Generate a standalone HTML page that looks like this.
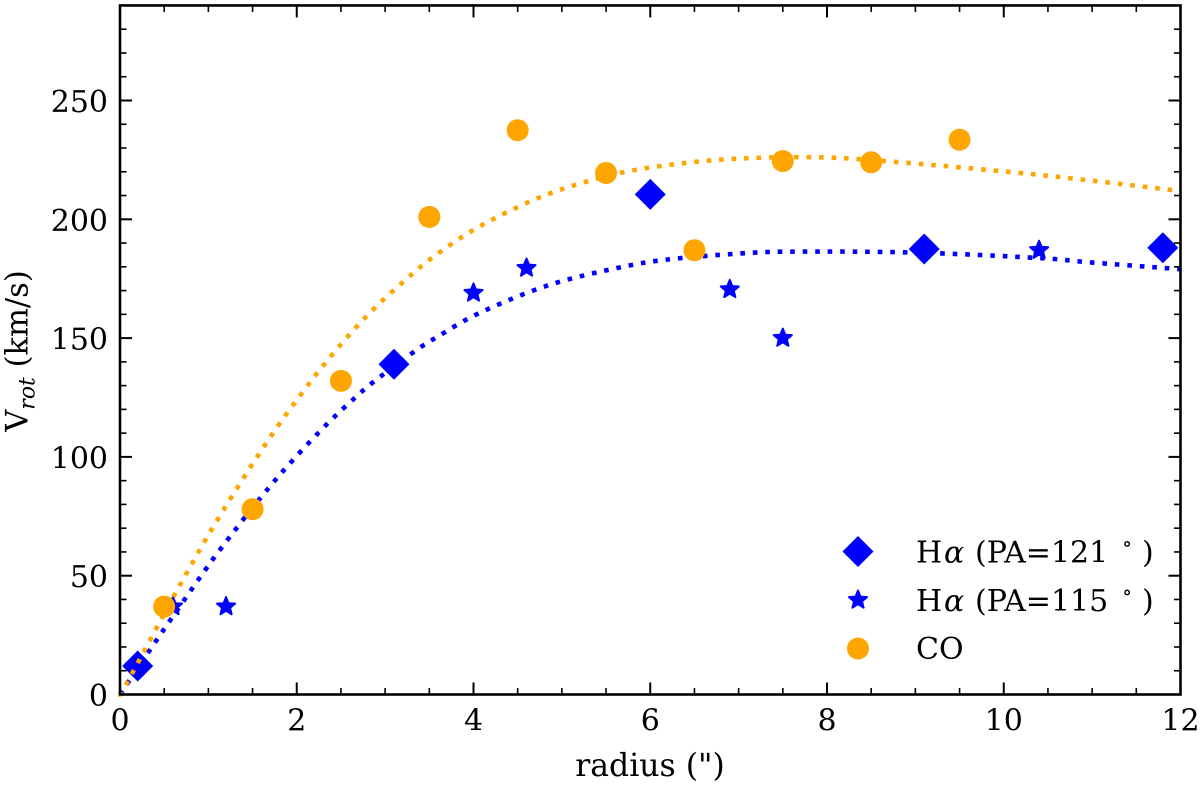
<!DOCTYPE html>
<html lang="en">
<head>
<meta charset="utf-8">
<title>Rotation curve</title>
<style>
html,body{margin:0;padding:0;background:#fff;width:1200px;height:789px;overflow:hidden}
svg{display:block}
text{font-family:"DejaVu Serif","Liberation Serif",serif;fill:#000}
</style>
</head>
<body>
<svg id="chart" width="1200" height="789" viewBox="0 0 1200 789" xmlns="http://www.w3.org/2000/svg">
  <g id="marks-low"></g>
  <g id="marks-line"></g>
  <g id="marks-co"></g>
  <g id="axes"></g>
  <text x="650" y="776" font-size="31.5" text-anchor="middle">radius (")</text>
  <text transform="translate(27.5 351) rotate(-90)" font-size="30.5" text-anchor="middle">V<tspan font-size="22" font-style="italic" dy="7">rot</tspan><tspan dy="-7"> (km/s)</tspan></text>
  <g id="legend">
    <text y="562.5" font-size="30"><tspan x="916">H</tspan><tspan x="944" font-style="italic">α</tspan><tspan x="975">(PA=121</tspan><tspan x="1122" font-size="21" dy="-12">∘</tspan><tspan x="1142" dy="12">)</tspan></text>
    <text y="611" font-size="30"><tspan x="916">H</tspan><tspan x="944" font-style="italic">α</tspan><tspan x="975">(PA=115</tspan><tspan x="1122" font-size="21" dy="-12">∘</tspan><tspan x="1142" dy="12">)</tspan></text>
    <text x="916" y="659" font-size="30">CO</text>
  </g>
</svg>
<script>
const xTickLabels = [0, 2, 4, 6, 8, 10, 12];
const yTickLabels = [0, 50, 100, 150, 200, 250];

const diamondX = [0.2, 3.1, 6.0, 9.1, 11.8];
const diamondY = [12, 139, 210.5, 187.5, 188];

const starX = [0.6, 1.2, 3.1, 4.0, 4.6, 6.9, 7.5, 10.4];
const starY = [37, 37, 139, 169, 179.5, 170.5, 150, 187];

const coX = [0.5, 1.5, 2.5, 3.5, 4.5, 5.5, 6.5, 7.5, 8.5, 9.5];
const coY = [37, 78, 132, 201, 237.5, 219.5, 187, 224.5, 224, 233.5];

const fitBlueX = [0, 0.09, 0.49, 0.9, 1.145, 1.59, 1.96, 2.35, 2.66, 2.88, 3.34, 3.58, 4.07, 4.86, 5.69, 6.25, 7.1, 7.67, 9, 10.4, 11, 12];
const fitBlueY = [0, 5, 27, 49, 61.6, 82.8, 98.8, 114.1, 124.9, 131.9, 144.6, 150.3, 160.6, 172.4, 180, 183.3, 185.8, 186.4, 186, 183.7, 181.8, 179];

const fitOrangeX = [0, 0.08, 0.7, 1.124, 1.66, 2.075, 2.43, 2.81, 3.23, 3.56, 4.04, 4.67, 5.2, 5.76, 6.47, 7.16, 8, 8.89, 10.16, 11.01, 11.86, 12];
const fitOrangeY = [0, 5, 47.5, 74.8, 106.1, 127.7, 144.3, 160, 174.5, 184.6, 196.4, 208, 215, 220.3, 224, 225.8, 226, 223.8, 219.6, 216.2, 212.5, 211.8];

const X0 = 120, X1 = 1180.5, Y0 = 694.5, PXY = 2.376, XMAX = 12, YMAX = 290;
const sx = v => X0 + (X1 - X0) * v / XMAX;
const sy = v => Y0 - PXY * v;
const NS = 'http://www.w3.org/2000/svg';
const mk = (parent, tag, attrs) => {
  const e = document.createElementNS(NS, tag);
  for (const k in attrs) e.setAttribute(k, attrs[k]);
  parent.appendChild(e);
  return e;
};
const diamondPts = (cx, cy) => {
  const r = 15.5;
  return [cx - r, cy, cx, cy - r, cx + r, cy, cx, cy + r].join(',');
};
const starPts = (cx, cy) => {
  const p = [];
  for (let i = 0; i < 10; i++) {
    const r = i % 2 ? 4.2 : 9.5;
    const a = -Math.PI / 2 + i * Math.PI / 5;
    p.push(cx + r * Math.cos(a), cy + r * Math.sin(a));
  }
  return p.join(',');
};
const spline = (xs, ys) => {
  const P = xs.map((x, i) => [sx(x), sy(ys[i])]);
  let d = 'M' + P[0][0] + ' ' + P[0][1];
  for (let i = 0; i < P.length - 1; i++) {
    const a = P[Math.max(i - 1, 0)], b = P[i], c = P[i + 1], e = P[Math.min(i + 2, P.length - 1)];
    d += ' C' + (b[0] + (c[0] - a[0]) / 6) + ' ' + (b[1] + (c[1] - a[1]) / 6) + ' ' +
      (c[0] - (e[0] - b[0]) / 6) + ' ' + (c[1] - (e[1] - b[1]) / 6) + ' ' + c[0] + ' ' + c[1];
  }
  return d;
};

const low = document.getElementById('marks-low');
const lines = document.getElementById('marks-line');
const co = document.getElementById('marks-co');
const axes = document.getElementById('axes');
const legend = document.getElementById('legend');

diamondX.forEach((x, i) => {
  const el = mk(low, 'polygon', { points: diamondPts(sx(x), sy(diamondY[i])), fill: '#0000ff' });
  
  
});
starX.forEach((x, i) => {
  const el = mk(low, 'polygon', { points: starPts(sx(x), sy(starY[i])), fill: '#0000ff', stroke: '#0000ff', 'stroke-width': 2, 'stroke-linejoin': 'round' });
  
  
});
const lineBlue = mk(lines, 'path', { d: spline(fitBlueX, fitBlueY), fill: 'none', stroke: '#0000ff', 'stroke-width': 4.6, 'stroke-dasharray': '4.6 7.9' });


const lineOrange = mk(lines, 'path', { d: spline(fitOrangeX, fitOrangeY), fill: 'none', stroke: '#ffa500', 'stroke-width': 4.6, 'stroke-dasharray': '4.6 7.9' });


coX.forEach((x, i) => {
  const el = mk(co, 'circle', { cx: sx(x), cy: sy(coY[i]), r: 11, fill: '#ffa500' });
  
  
});

// ticks
for (let v = 0; v <= XMAX + 1e-6; v += 0.5) {
  const major = Math.abs(v % 2) < 1e-6;
  const len = major ? 12 : 6.5;
  const t1 = mk(axes, 'line', { x1: sx(v), x2: sx(v), y1: Y0, y2: Y0 - len, stroke: '#000', 'stroke-width': major ? 2 : 1.6 });
  
  
  const t2 = mk(axes, 'line', { x1: sx(v), x2: sx(v), y1: sy(YMAX), y2: sy(YMAX) + len, stroke: '#000', 'stroke-width': major ? 2 : 1.6 });
  
  
}
for (let v = 0; v <= YMAX; v += 10) {
  const major = v % 50 === 0;
  const len = major ? 12 : 6.5;
  const t1 = mk(axes, 'line', { x1: X0, x2: X0 + len, y1: sy(v), y2: sy(v), stroke: '#000', 'stroke-width': major ? 2 : 1.6 });
  
  
  const t2 = mk(axes, 'line', { x1: X1, x2: X1 - len, y1: sy(v), y2: sy(v), stroke: '#000', 'stroke-width': major ? 2 : 1.6 });
  
  
}
const frame = mk(axes, 'rect', { x: X0, y: sy(YMAX), width: X1 - X0, height: Y0 - sy(YMAX), fill: 'none', stroke: '#000', 'stroke-width': 2.6 });



xTickLabels.forEach(v => {
  const t = mk(axes, 'text', { x: sx(v), y: 730.5, 'font-size': 30, 'text-anchor': 'middle' });
  t.textContent = v;
  
  
});
yTickLabels.forEach(v => {
  const t = mk(axes, 'text', { x: 108, y: sy(v) + 11.5, 'font-size': 30, 'text-anchor': 'end' });
  t.textContent = v;
  
  
});

// legend markers
const legDiamond = mk(legend, 'polygon', { points: diamondPts(858, 551.5), fill: '#0000ff' });


const legStar = mk(legend, 'polygon', { points: starPts(858, 600), fill: '#0000ff', stroke: '#0000ff', 'stroke-width': 2, 'stroke-linejoin': 'round' });


const legCo = mk(legend, 'circle', { cx: 858, cy: 648.5, r: 11, fill: '#ffa500' });


</script>
</body>
</html>
